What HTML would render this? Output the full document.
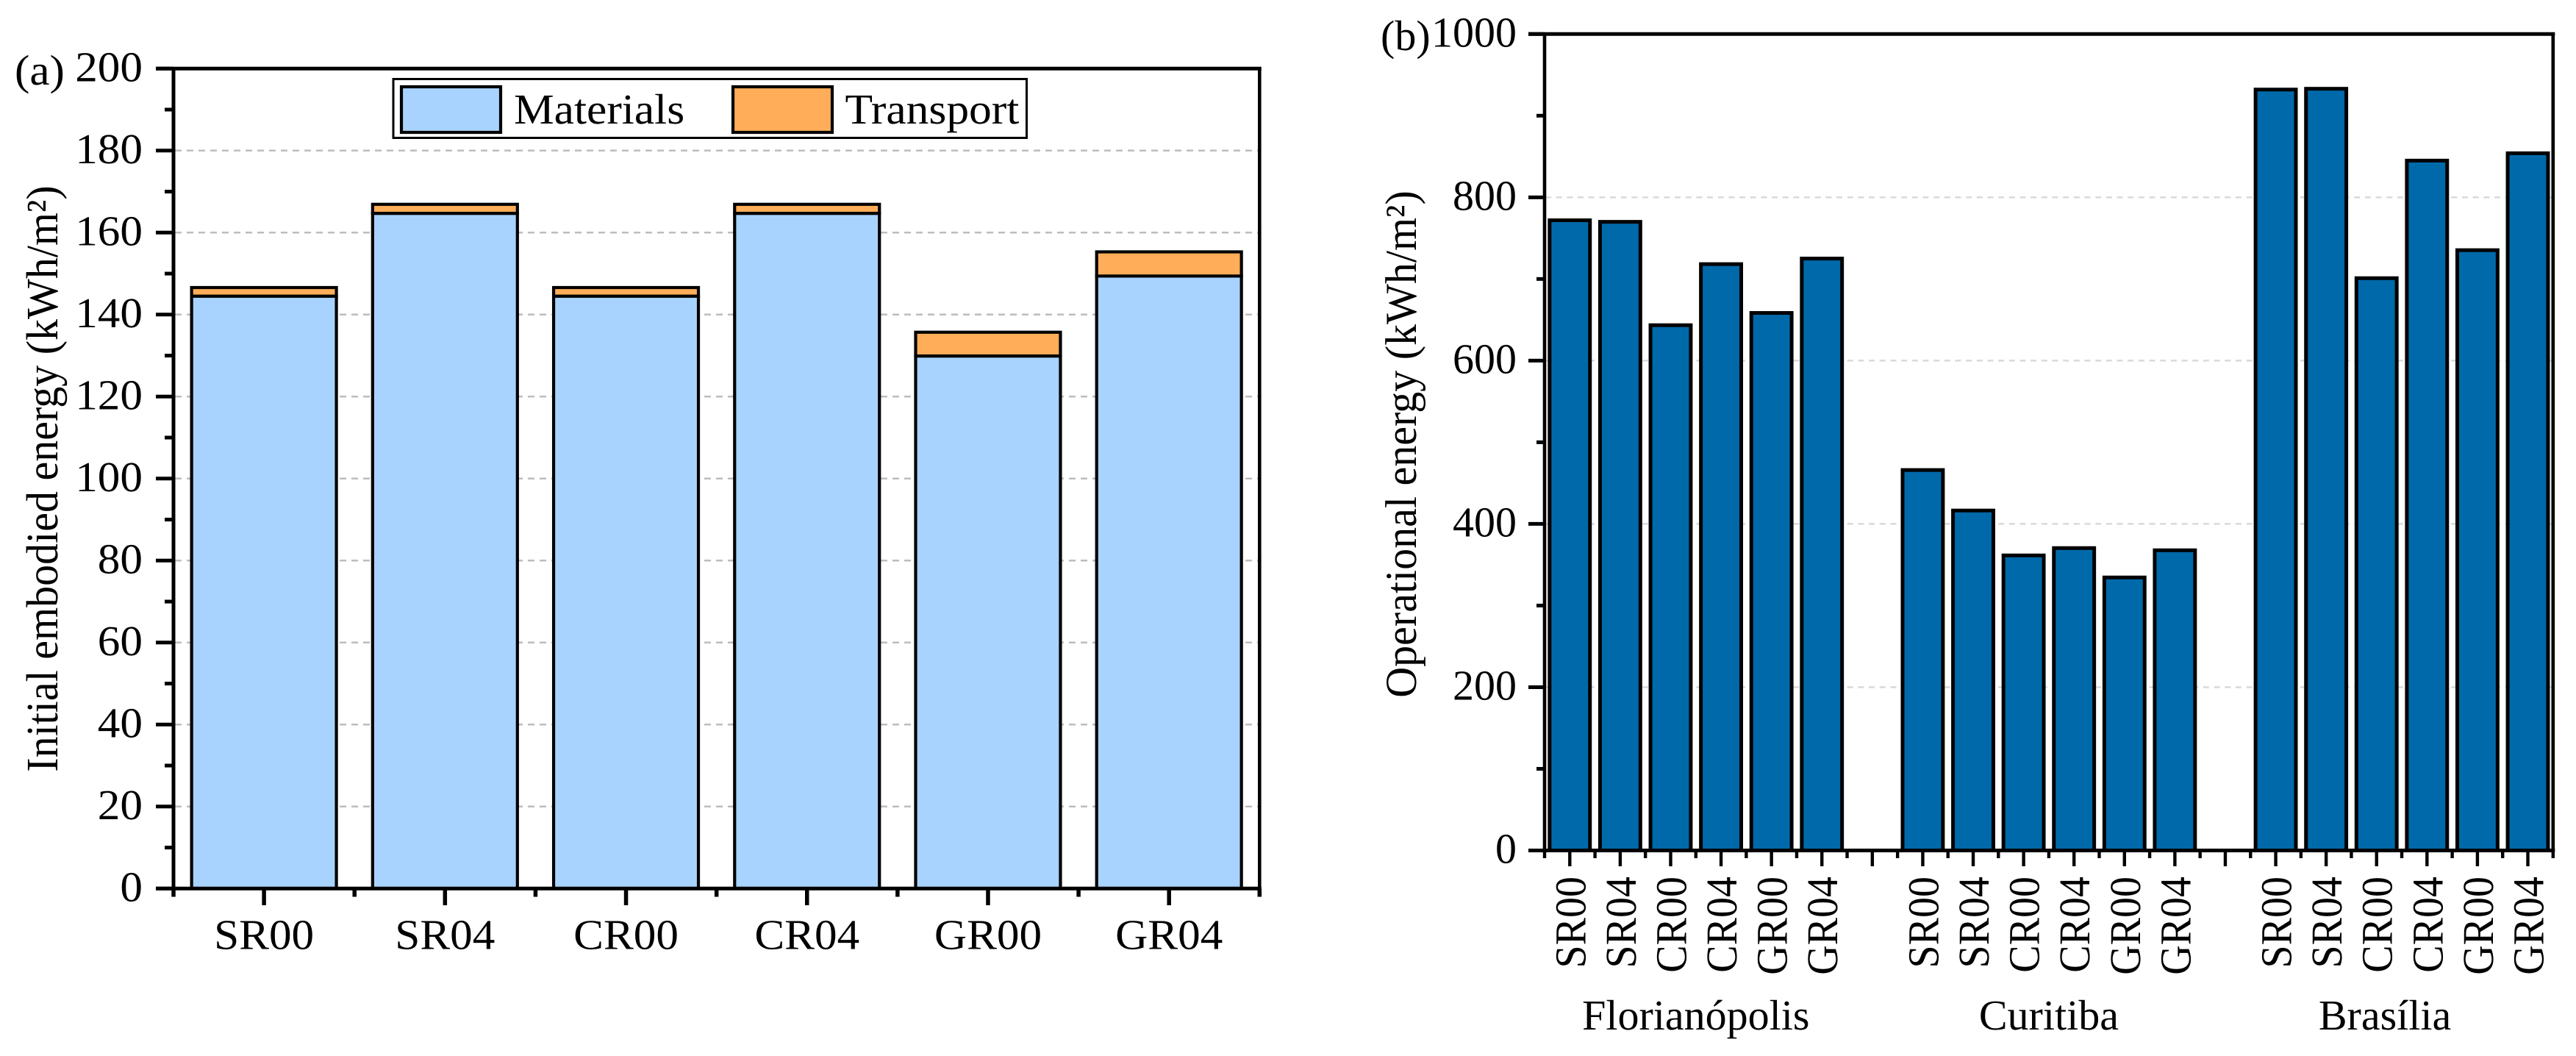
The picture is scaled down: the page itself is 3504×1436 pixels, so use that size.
<!DOCTYPE html>
<html lang="en">
<head>
<meta charset="utf-8">
<title>Embodied and operational energy charts</title>
<style>
html,body{margin:0;padding:0;background:#fff;width:3504px;height:1436px;overflow:hidden}
svg{display:block}
text{font-family:"Liberation Serif","Times New Roman",serif;fill:#000;text-rendering:geometricPrecision}
</style>
</head>
<body>
<svg id="chart" xmlns="http://www.w3.org/2000/svg" width="3504" height="1436" viewBox="0 0 3504 1436"></svg>
<script>
const categoriesA = ['SR00','SR04','CR00','CR04','GR00','GR04'];
const materials = [144.5,164.7,144.5,164.7,129.9,149.4];
const transport = [2.1,2.2,2.1,2.2,5.8,5.9];
const ticksA = [0,20,40,60,80,100,120,140,160,180,200];
const minorTicksA = [10,30,50,70,90,110,130,150,170,190];
const gridA = [20,40,60,80,100,120,140,160,180];

const cities = ['Florianópolis','Curitiba','Brasília'];
const categoriesB = ['SR00','SR04','CR00','CR04','GR00','GR04'];
const florianopolis = [771.9,770,643.4,718.2,658.4,725];
const curitiba = [466,416.4,361.4,370.4,334.4,367.7];
const brasilia = [932,933,701,845,735.3,854];
const ticksB = [0,200,400,600,800,1000];
const minorTicksB = [100,300,500,700,900];
const gridB = [200,400,600,800];

const NS = 'http://www.w3.org/2000/svg';
const root = document.getElementById('chart');
const STRETCH_A = 1.055;

function make(parent, tag, attrs, text) {
  const el = document.createElementNS(NS, tag);
  for (const k in attrs) el.setAttribute(k, attrs[k]);
  if (text !== undefined) el.textContent = text;
  parent.appendChild(el);
  return el;
}
function line(parent, x1, y1, x2, y2, w, color, dash) {
  const a = {x1:x1, y1:y1, x2:x2, y2:y2, stroke:color || '#000', 'stroke-width':w};
  if (dash) a['stroke-dasharray'] = dash;
  return make(parent, 'line', a);
}
function group(name) {
  const g = make(root, 'g', {});
  
  
  return g;
}
function hText(parent, str, x, y, anchor, stretch) {
  return make(parent, 'text', {transform:'translate(' + x + ',' + y + ') scale(' + stretch + ',1)', 'font-size':58, 'text-anchor':anchor}, str);
}
function vText(parent, str, x, y, anchor, size, stretch) {
  return make(parent, 'text', {transform:'translate(' + x + ',' + y + ') rotate(-90) scale(1,' + stretch + ')', 'font-size':size, 'text-anchor':anchor}, str);
}

/* ---------- Panel A ---------- */
const ax = {left:236, right:1713.3, top:93.3, bottom:1208.3, max:200};
const yA = v => ax.bottom - (v / ax.max) * (ax.bottom - ax.top);
const stepA = (ax.right - ax.left) / categoriesA.length;
const xA = i => ax.left + stepA * (i + 0.5);

const gridGroupA = group('panel-a-gridlines');
gridA.forEach(v => {
  const l = line(gridGroupA, 238, yA(v), ax.right - 2, yA(v), 2.5, '#bdbdbd', '9 7');
  
  
});

const barsA = group('panel-a-bars');
categoriesA.forEach((c, i) => {
  const w = stepA * 0.8;
  const m = make(barsA, 'rect', {x:xA(i)-w/2, y:yA(materials[i]), width:w, height:yA(0)-yA(materials[i]), fill:'#a8d3fe', stroke:'#000', 'stroke-width':4.2});
  
  
  const topV = materials[i] + transport[i];
  const t = make(barsA, 'rect', {x:xA(i)-w/2, y:yA(topV), width:w, height:yA(materials[i])-yA(topV), fill:'#ffad59', stroke:'#000', 'stroke-width':4.2});
  
  
});

const axesA = group('panel-a-axes');
line(axesA, 212, ax.top, ax.right + 2.5, ax.top, 5);
line(axesA, 212, ax.bottom, ax.right + 2.5, ax.bottom, 5);
line(axesA, ax.left, ax.top, ax.left, ax.bottom, 5);
line(axesA, ax.right, ax.top, ax.right, ax.bottom, 4.6);
ticksA.forEach(v => {
  line(axesA, 212, yA(v), ax.left, yA(v), 5);
  const t = hText(axesA, String(v), 194, yA(v)+17, 'end', STRETCH_A);
  
  
});
minorTicksA.forEach(v => line(axesA, 224, yA(v), ax.left, yA(v), 5));
for (let i = 0; i <= categoriesA.length; i++) {
  line(axesA, ax.left + stepA * i, ax.bottom, ax.left + stepA * i, 1219.5, 5.5);
}
categoriesA.forEach((c, i) => {
  line(axesA, xA(i), ax.bottom, xA(i), 1231, 5.5);
  const t = hText(axesA, c, xA(i), 1290.5, 'middle', STRETCH_A);
  
  
});

const titleA = vText(root, 'Initial embodied energy (kWh/m²)', 78, 651, 'middle', 58, STRETCH_A);



const panelLabelA = hText(root, '(a)', 20, 115, 'start', STRETCH_A);



const legend = group('legend');
const legendFrame = make(legend, 'rect', {x:535, y:107.5, width:861.5, height:80, fill:'#fff', stroke:'#000', 'stroke-width':3});


const swatchM = make(legend, 'rect', {x:546, y:118, width:135, height:62, fill:'#a8d3fe', stroke:'#000', 'stroke-width':4.2});


const labelM = hText(legend, 'Materials', 699, 168, 'start', 1.06);


const swatchT = make(legend, 'rect', {x:997, y:118, width:135, height:62, fill:'#ffad59', stroke:'#000', 'stroke-width':4.2});


const labelT = hText(legend, 'Transport', 1149.5, 168, 'start', 1.06);



/* ---------- Panel B ---------- */
const bx = {left:2101, right:3472.8, top:46.3, bottom:1156.5, max:1000, slots:20};
const yB = v => bx.bottom - (v / bx.max) * (bx.bottom - bx.top);
const stepB = (bx.right - bx.left) / bx.slots;
const xB = s => bx.left + stepB * (s + 0.5);

const gridGroupB = group('panel-b-gridlines');
gridB.forEach(v => {
  const l = line(gridGroupB, 2102, yB(v), bx.right - 2, yB(v), 2.5, '#d9d9d9', '8 6.67');
  
  
});

const seriesB = [florianopolis, curitiba, brasilia];
const barsB = group('panel-b-bars');
seriesB.forEach((vals, g) => {
  vals.forEach((v, i) => {
    const s = g * 7 + i;
    const w = stepB * 0.8;
    const r = make(barsB, 'rect', {x:xB(s)-w/2, y:yB(v), width:w, height:yB(0)-yB(v), fill:'#0069aa', stroke:'#000', 'stroke-width':5});
    
    
  });
});

const axesB = group('panel-b-axes');
line(axesB, 2079, bx.top, bx.right + 2.5, bx.top, 5);
line(axesB, 2079, bx.bottom, bx.right + 2.5, bx.bottom, 5);
line(axesB, bx.left, bx.top, bx.left, bx.bottom, 4.6);
line(axesB, bx.right, bx.top, bx.right, bx.bottom, 4.6);
ticksB.forEach(v => {
  line(axesB, 2079, yB(v), bx.left, yB(v), 5);
  const t = hText(axesB, String(v), 2063, yB(v)+17, 'end', 1);
  
  
});
minorTicksB.forEach(v => line(axesB, 2090, yB(v), bx.left, yB(v), 5));
for (let s = 0; s <= bx.slots; s++) {
  line(axesB, bx.left + stepB * s, bx.bottom, bx.left + stepB * s, 1167, 4.4);
  if (s < bx.slots) line(axesB, xB(s), bx.bottom, xB(s), 1178, 4.4);
}
cities.forEach((city, g) => {
  categoriesB.forEach((c, i) => {
    const s = g * 7 + i;
    const t = vText(axesB, c, xB(s)+21, 1192, 'end', 56, 1.07);
    
    
  });
});
const cityCenters = [xB(2.5), xB(9.5), xB(16.5) - 23];
cities.forEach((city, g) => {
  const t = hText(axesB, city, cityCenters[g], 1400, 'middle', 1);
  
  
});

const titleB = vText(root, 'Operational energy (kWh/m²)', 1926, 604, 'middle', 58, 1.04);



const panelLabelB = hText(root, '(b)', 1878, 68, 'start', 1);


</script>
</body>
</html>
